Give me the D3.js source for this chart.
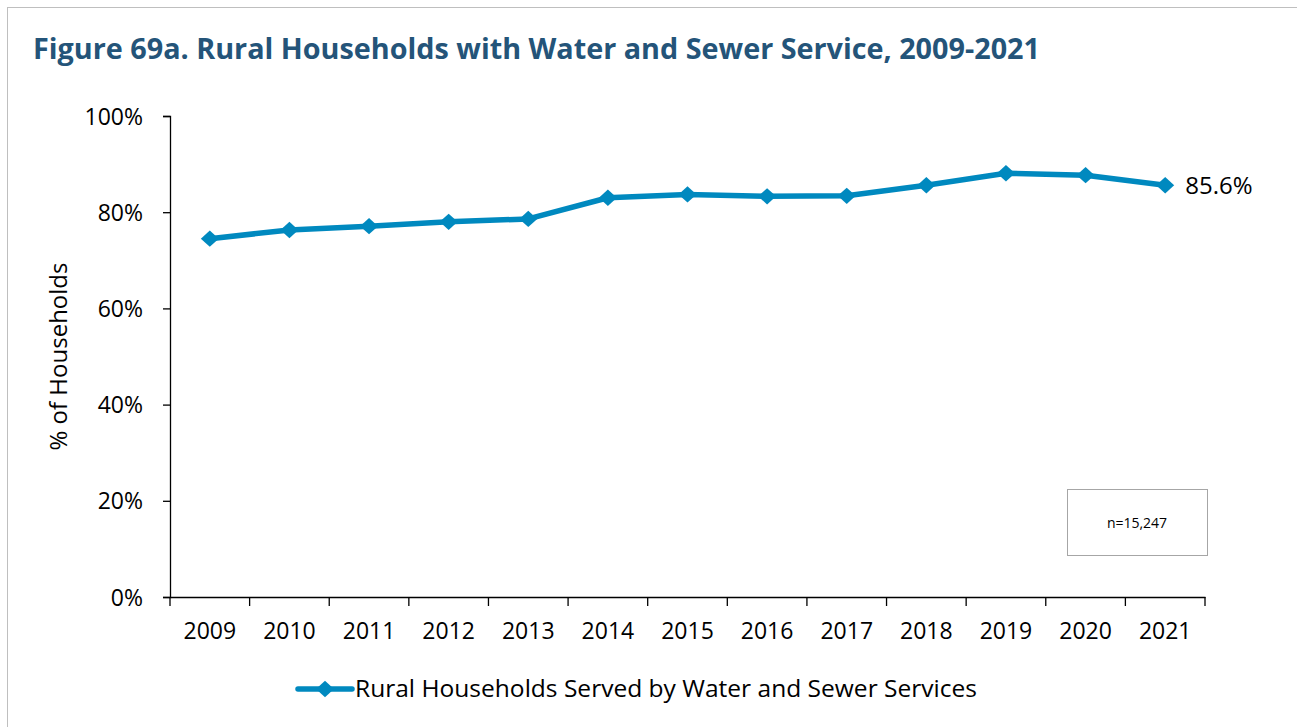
<!DOCTYPE html>
<html>
<head>
<meta charset="utf-8">
<script src="https://cdn.jsdelivr.net/npm/d3@7"></script>
<style>
  body { margin: 0; background: #fff; }
  svg { display: block; }
  text { font-family: "Open Sans", "Noto Sans", sans-serif; fill: #000; }
</style>
</head>
<body>
<div id="chart"></div>
<script>
// --- Data ---
const years = ['2009', '2010', '2011', '2012', '2013', '2014', '2015', '2016', '2017', '2018', '2019', '2020', '2021'];
const served = [74.5, 76.3, 77.1, 78.0, 78.6, 83.0, 83.7, 83.3, 83.4, 85.6, 88.1, 87.7, 85.6];
const yTicks = [0, 20, 40, 60, 80, 100];
const seriesName = 'Rural Households Served by Water and Sewer Services';
const titleText = 'Figure 69a. Rural Households with Water and Sewer Service, 2009-2021';
const noteText = 'n=15,247';

const width = 1297, height = 727;
const margin = { top: 116, right: 92, bottom: 130, left: 170 };
const lineColor = '#0089bf';

const svg = d3.select('#chart').append('svg')
    .attr('width', width)
    .attr('height', height);

// outer frame
svg.append('rect')
    .attr('x', 7.5).attr('y', 7.5)
    .attr('width', width + 10).attr('height', height + 10)
    .attr('fill', 'none')
    .attr('stroke', '#bfbfbf')
    .attr('stroke-width', 1);

// title
svg.append('text')
    .attr('x', 33).attr('y', 59)
    .attr('textLength', 1007)
    .attr('lengthAdjust', 'spacingAndGlyphs')
    .style('font-size', '28px')
    .style('font-weight', 700)
    .style('fill', '#245479')
    .text(titleText);

const x = d3.scaleBand()
    .domain(years)
    .range([margin.left, width - margin.right]);

const y = d3.scaleLinear()
    .domain([0, 100])
    .range([height - margin.bottom, margin.top]);

const g = svg.append('g');

// y axis
g.append('g')
    .attr('transform', `translate(${margin.left},0)`)
    .call(d3.axisLeft(y).tickValues(yTicks).tickSize(7).tickPadding(20).tickFormat(d => d + '%'))
    .call(a => a.select('.domain').attr('stroke', '#000').attr('stroke-width', 1.3))
    .call(a => a.selectAll('.tick line').attr('stroke', '#000').attr('stroke-width', 1.3))
    .call(a => a.selectAll('text').attr('font-family', null).style('font-size', '23px').attr('dy', '0.35em'));

// x axis (labels at category centres, ticks at category boundaries)
const xAxis = g.append('g')
    .attr('transform', `translate(0,${y(0)})`)
    .call(d3.axisBottom(x).tickSize(0).tickPadding(26).tickSizeOuter(0))
    .call(a => a.select('.domain').attr('stroke', '#000').attr('stroke-width', 1.3))
    .call(a => a.selectAll('text').attr('font-family', null).style('font-size', '23px'));

const bounds = years.map(d => x(d)).concat([x(years[years.length - 1]) + x.bandwidth()]);
xAxis.selectAll('.btick')
    .data(bounds)
    .enter()
    .append('line')
    .attr('class', 'btick')
    .attr('x1', d => d).attr('x2', d => d)
    .attr('y1', 0).attr('y2', 9)
    .attr('stroke', '#000')
    .attr('stroke-width', 1.3);

// y axis title
svg.append('text')
    .attr('transform', `translate(67,${(y(0) + y(100)) / 2}) rotate(-90)`)
    .attr('text-anchor', 'middle')
    .style('font-size', '24px')
    .text('% of Households');

// series
const data = years.map((d, i) => ({ year: d, value: served[i] }));
const cx = d => x(d.year) + x.bandwidth() / 2;

g.append('path')
    .datum(data)
    .attr('fill', 'none')
    .attr('stroke', lineColor)
    .attr('stroke-width', 5.5)
    .attr('stroke-linejoin', 'round')
    .attr('d', d3.line().x(cx).y(d => y(d.value)));

const diamond = d3.symbol().type(d3.symbolDiamond2).size(170);
g.selectAll('.marker')
    .data(data)
    .enter()
    .append('path')
    .attr('class', 'marker')
    .attr('transform', d => `translate(${cx(d)},${y(d.value)}) scale(1.1,1)`)
    .attr('d', diamond)
    .attr('fill', lineColor);

// last value label
const last = data[data.length - 1];
g.append('text')
    .attr('x', cx(last) + 20)
    .attr('y', y(last.value))
    .attr('dy', '0.35em')
    .style('font-size', '24px')
    .text(last.value.toFixed(1) + '%');

// n box
svg.append('rect')
    .attr('x', 1067.5).attr('y', 489.5)
    .attr('width', 140).attr('height', 66)
    .attr('fill', '#fff')
    .attr('stroke', '#a6a6a6')
    .attr('stroke-width', 1);
svg.append('text')
    .attr('x', 1137).attr('y', 523)
    .attr('dy', '0.35em')
    .attr('text-anchor', 'middle')
    .style('font-size', '14px')
    .text(noteText);

// legend
const legend = svg.append('g').attr('transform', 'translate(298,689)');
legend.append('line')
    .attr('x1', 0).attr('x2', 54)
    .attr('stroke', lineColor)
    .attr('stroke-width', 5.5)
    .attr('stroke-linecap', 'round');
legend.append('path')
    .attr('transform', 'translate(27,0) scale(1.1,1)')
    .attr('d', diamond)
    .attr('fill', lineColor);
legend.append('text')
    .attr('x', 57)
    .attr('dy', '0.35em')
    .attr('textLength', 622)
    .attr('lengthAdjust', 'spacingAndGlyphs')
    .style('font-size', '24px')
    .text(seriesName);
</script>
</body>
</html>
